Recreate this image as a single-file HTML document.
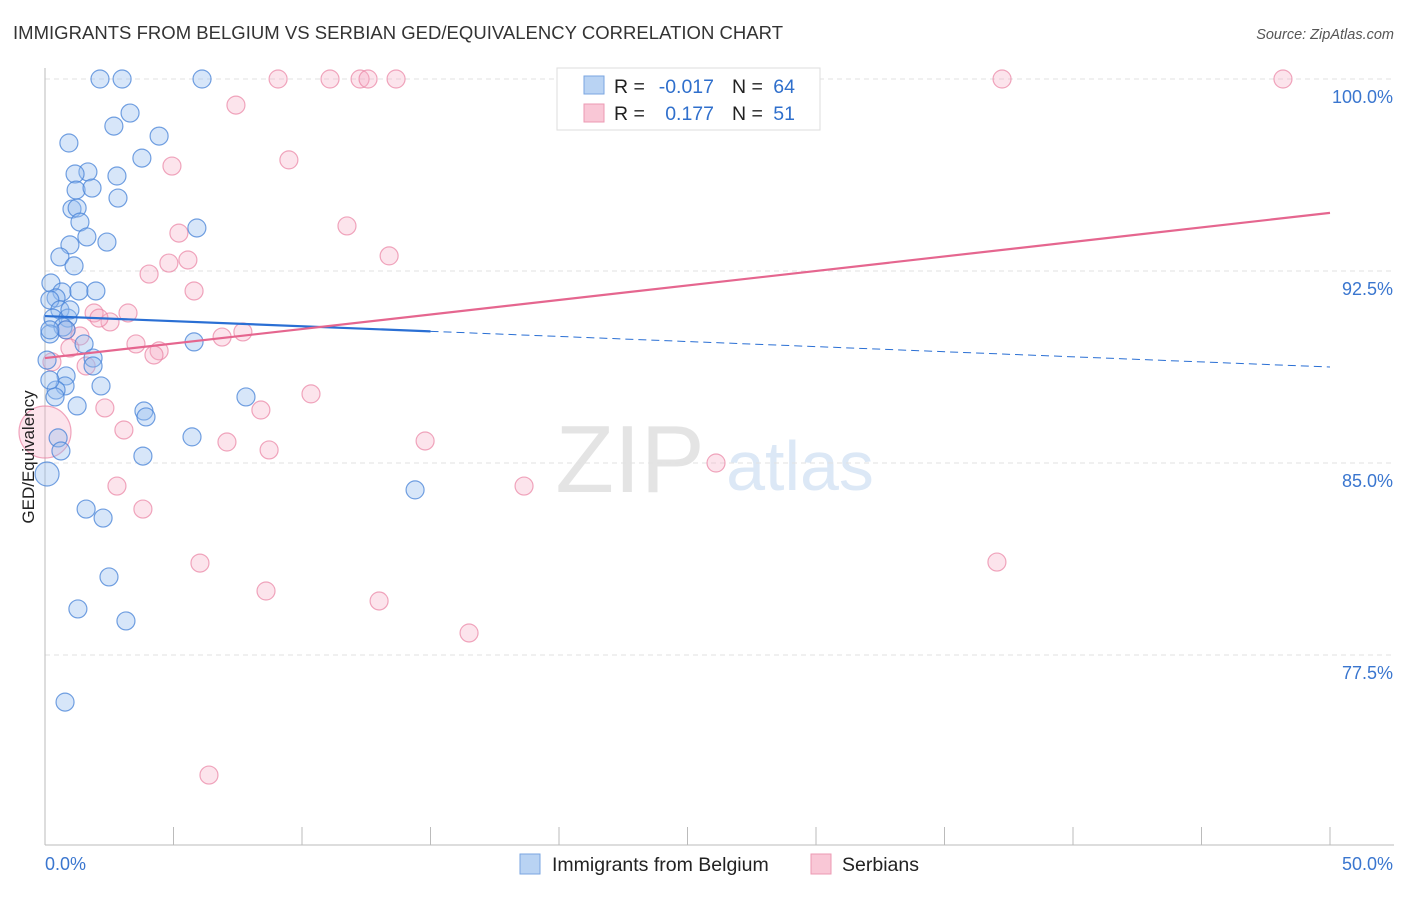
<!DOCTYPE html>
<html><head><meta charset="utf-8"><style>
body{margin:0;background:#fff;font-family:"Liberation Sans",sans-serif;}
svg text{font-family:"Liberation Sans",sans-serif;}
</style></head><body>
<svg id="chart" width="1406" height="892" xmlns="http://www.w3.org/2000/svg">
<text x="13" y="39" font-size="18.5" fill="#333" textLength="770">IMMIGRANTS FROM BELGIUM VS SERBIAN GED/EQUIVALENCY CORRELATION CHART</text>
<text x="1394" y="39" font-size="14.5" fill="#555" text-anchor="end" font-style="italic">Source: ZipAtlas.com</text>
<text x="630" y="492" font-size="96" fill="#e4e4e4" font-family="Liberation Serif" text-anchor="middle">ZIP</text>
<text x="800" y="490" font-size="70" fill="#dce8f6" text-anchor="middle">atlas</text>
<g id="grid"></g><g id="axes"></g><g id="pts"></g><g id="lines"></g>
<text transform="translate(34,457) rotate(-90)" font-size="17" fill="#222" text-anchor="middle">GED/Equivalency</text>
<g>
<rect x="557" y="68" width="263" height="62" fill="#fff" stroke="#ddd"/>
<rect x="584" y="76" width="20" height="18" fill="#b9d3f3" stroke="#7aa6e0"/>
<rect x="584" y="104" width="20" height="18" fill="#f9c7d6" stroke="#ec9ab3"/>
<text x="614" y="93" font-size="19.5" fill="#222">R =</text>
<text x="714" y="93" font-size="19.5" fill="#2f6fcc" text-anchor="end">-0.017</text>
<text x="732" y="93" font-size="19.5" fill="#222">N =</text>
<text x="795" y="93" font-size="19.5" fill="#2f6fcc" text-anchor="end">64</text>
<text x="614" y="120" font-size="19.5" fill="#222">R =</text>
<text x="714" y="120" font-size="19.5" fill="#2f6fcc" text-anchor="end">0.177</text>
<text x="732" y="120" font-size="19.5" fill="#222">N =</text>
<text x="795" y="120" font-size="19.5" fill="#2f6fcc" text-anchor="end">51</text>
</g>
<g>
<rect x="520" y="854" width="20" height="20" fill="#b9d3f3" stroke="#7aa6e0"/>
<text x="552" y="871" font-size="19.5" fill="#222">Immigrants from Belgium</text>
<rect x="811" y="854" width="20" height="20" fill="#f9c7d6" stroke="#ec9ab3"/>
<text x="842" y="871" font-size="19.5" fill="#222">Serbians</text>
</g>
</svg>
<script>
const yTicks=[100,92.5,85,77.5];
const yTickLabels=["100.0%","92.5%","85.0%","77.5%"];
const xTickLabels=["0.0%","50.0%"];
const blueX=[2.14,3.0,6.11,3.31,2.68,4.44,0.93,3.77,1.67,1.17,2.8,1.21,1.83,2.84,1.05,1.25,1.36,1.63,2.41,5.91,0.97,0.58,1.13,0.23,0.66,1.32,1.98,0.43,0.19,0.58,0.31,0.89,0.7,0.82,0.19,1.52,5.8,1.87,1.87,0.08,0.82,2.18,0.78,0.43,0.39,1.25,3.85,3.93,7.82,5.72,0.51,0.62,3.81,0.08,14.4,1.6,2.26,2.49,1.28,3.15,0.78,0.19,0.19,0.97];
const blueY=[100,100,100,98.67,98.16,97.77,97.5,96.91,96.37,96.29,96.21,95.66,95.74,95.35,94.92,94.96,94.41,93.83,93.63,94.18,93.52,93.05,92.7,92.03,91.68,91.72,91.72,91.45,91.37,90.98,90.66,90.66,90.31,90.2,90.04,89.65,89.73,89.1,88.79,89.02,88.4,88.01,88.01,87.85,87.58,87.23,87.03,86.8,87.58,86.02,85.98,85.47,85.27,84.57,83.95,83.2,82.85,80.55,79.3,78.83,75.66,88.24,90.2,90.98];
const pinkX=[9.07,11.09,12.26,12.57,13.66,20.62,37.24,48.17,7.43,9.49,4.94,11.75,5.21,13.39,4.05,4.82,5.56,5.8,1.91,3.23,2.53,2.1,0.82,1.36,6.89,7.7,3.54,4.44,4.24,0.97,0.27,1.6,10.35,8.4,2.33,3.07,7.08,8.72,14.79,26.11,18.64,2.8,3.81,6.03,37.04,8.6,13.0,16.5,6.38,0];
const pinkY=[100,100,100,100,100,100,100,100,98.98,96.84,96.6,94.26,93.98,93.09,92.38,92.81,92.93,91.72,90.86,90.86,90.51,90.66,90.2,89.96,89.92,90.12,89.65,89.38,89.22,89.49,88.95,88.79,87.7,87.07,87.15,86.29,85.82,85.51,85.86,85.0,84.1,84.1,83.2,81.09,81.13,80.0,79.61,78.36,72.81,86.21];
const blueTrend=[90.74,88.75];
const pinkTrend=[89.10,94.77];
const blueSolidEnd=15;
const NS="http://www.w3.org/2000/svg";
function X(v){return 45+v*25.7;}
function Y(v){return 79+(100-v)*25.6;}
function mk(tag,attrs,parent){const e=document.createElementNS(NS,tag);for(const k in attrs)e.setAttribute(k,attrs[k]);parent.appendChild(e);return e;}
const grid=document.getElementById('grid'),axes=document.getElementById('axes'),pts=document.getElementById('pts'),lines=document.getElementById('lines');
yTicks.forEach((t,i)=>{
 const l=mk('line',{x1:45,x2:1394,y1:Y(t),y2:Y(t),stroke:'#e2e2e2','stroke-dasharray':'5,4'},grid);
 
 
 const tx=mk('text',{x:1393,y:Y(t)+24,'font-size':18,fill:'#3a76cf','text-anchor':'end'},axes);
 tx.textContent=yTickLabels[i];
 
 
});
const ax=mk('line',{x1:45,x2:1394,y1:845,y2:845,stroke:'#bbb'},axes);


const ay=mk('line',{x1:45,x2:45,y1:68,y2:845,stroke:'#bbb'},axes);


for(let i=0;i<=10;i++){const t=mk('line',{x1:X(i*5),x2:X(i*5),y1:827,y2:845,stroke:'#bbb'},axes);
 
 }
[[0,'start',45],[50,'end',1393]].forEach((d,i)=>{const t=mk('text',{x:d[2],y:870,'font-size':18,fill:'#3a76cf','text-anchor':d[1]},axes);t.textContent=xTickLabels[i];
 
 });
pinkX.forEach((x,i)=>{const r=(x===0)?26:9;const c=mk('circle',{cx:X(x),cy:Y(pinkY[i]),r:r,fill:'rgba(246,170,195,0.32)',stroke:'rgba(233,130,162,0.7)','stroke-width':1.2},pts);
 
 });
blueX.forEach((x,i)=>{const r=(i===53)?12:9;const c=mk('circle',{cx:X(x),cy:Y(blueY[i]),r:r,fill:'rgba(150,190,240,0.38)',stroke:'rgba(70,130,215,0.75)','stroke-width':1.2},pts);
 
 });
function ty(tr,x){return tr[0]+(tr[1]-tr[0])*x/50;}
const b1=mk('line',{x1:X(0),y1:Y(ty(blueTrend,0)),x2:X(blueSolidEnd),y2:Y(ty(blueTrend,blueSolidEnd)),stroke:'#2a6fd4','stroke-width':2.2},lines);


const b2=mk('line',{x1:X(blueSolidEnd),y1:Y(ty(blueTrend,blueSolidEnd)),x2:X(50),y2:Y(ty(blueTrend,50)),stroke:'#2a6fd4','stroke-width':1,'stroke-dasharray':'8,5'},lines);


const p1=mk('line',{x1:X(0),y1:Y(ty(pinkTrend,0)),x2:X(50),y2:Y(ty(pinkTrend,50)),stroke:'#e5668f','stroke-width':2.2},lines);


</script>
</body></html>
